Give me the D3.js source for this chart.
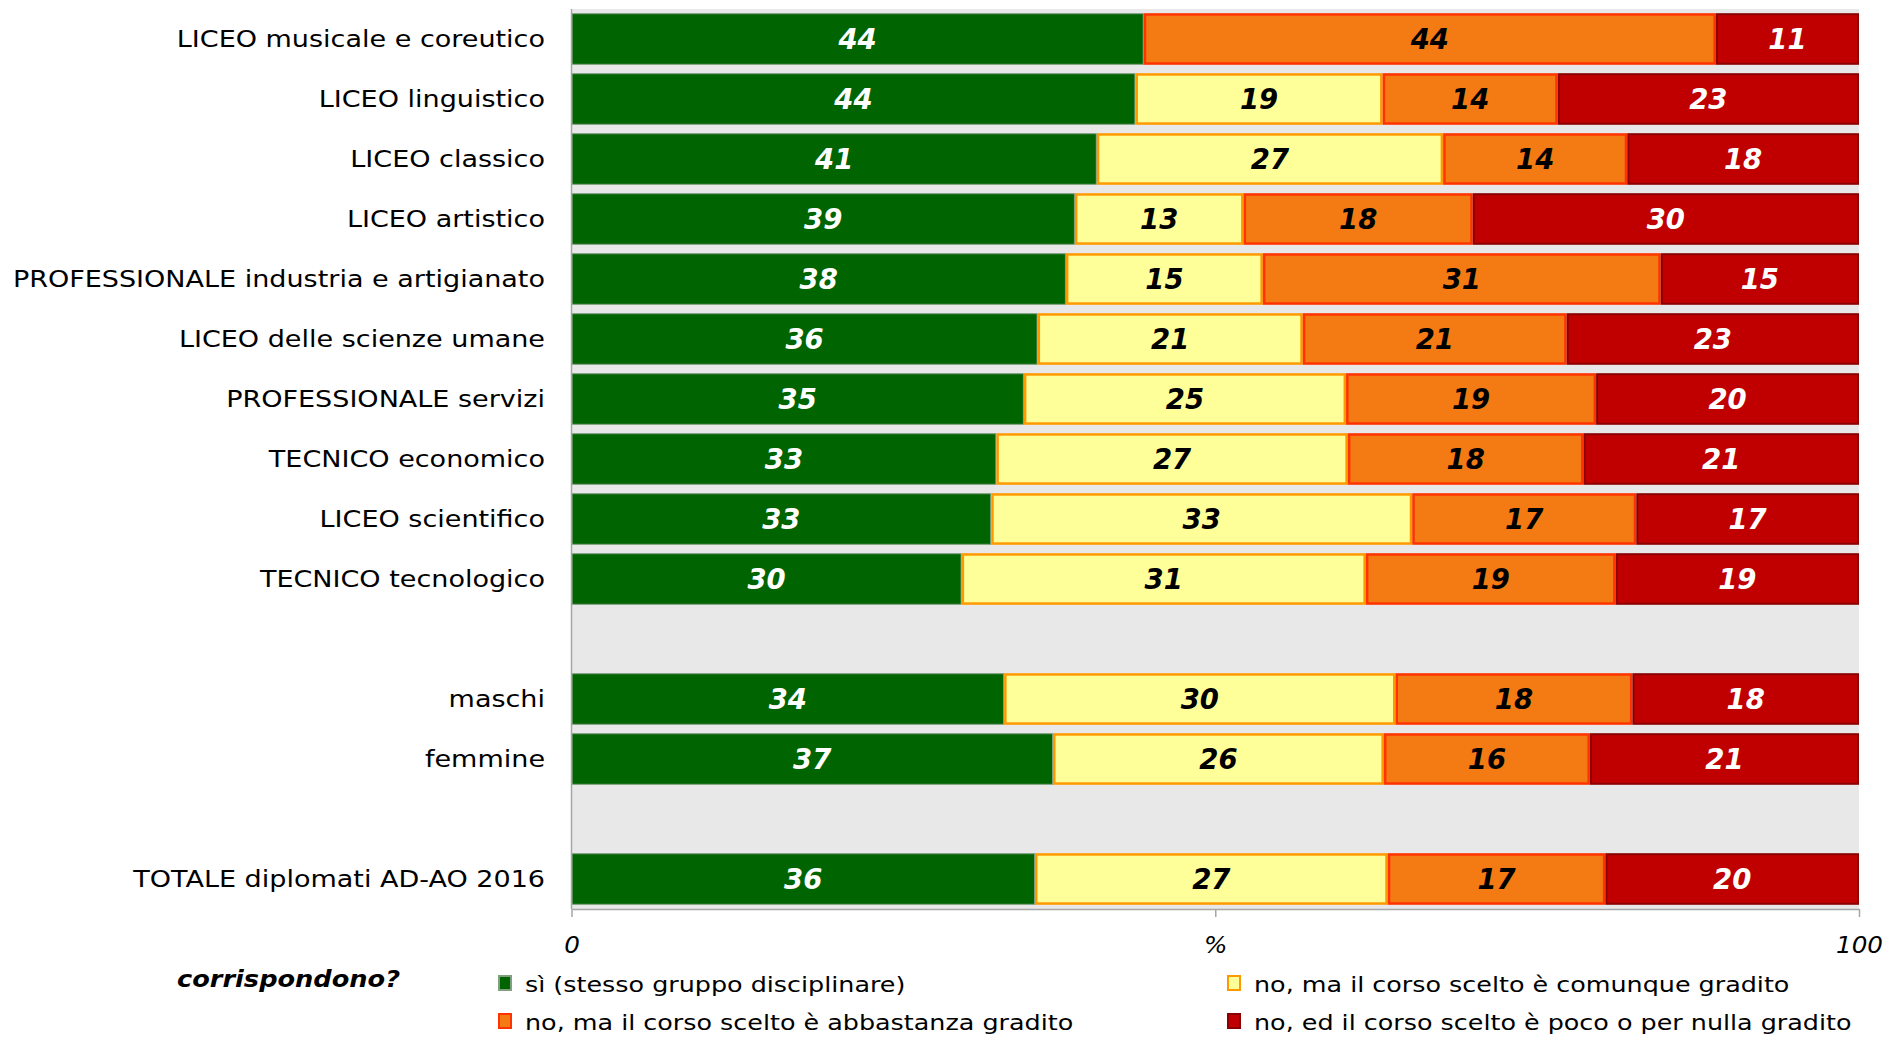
<!DOCTYPE html>
<html>
<head>
<meta charset="utf-8">
<script src="https://cdn.jsdelivr.net/npm/d3@7"></script>
<style>
  html, body { margin: 0; padding: 0; background: #ffffff; }
  svg { display: block; font-family: "DejaVu Sans", Verdana, sans-serif; }
</style>
</head>
<body>
<svg id="chart" width="1890" height="1038"></svg>
<script>
// ---------------- DATA ----------------
const categories = [
  "LICEO musicale e coreutico",
  "LICEO linguistico",
  "LICEO classico",
  "LICEO artistico",
  "PROFESSIONALE industria e artigianato",
  "LICEO delle scienze umane",
  "PROFESSIONALE servizi",
  "TECNICO economico",
  "LICEO scientifico",
  "TECNICO tecnologico",
  "maschi",
  "femmine",
  "TOTALE diplomati AD-AO 2016"
];
// row order on the band scale, with empty spacer rows
const rowOrder = [
  "LICEO musicale e coreutico", "LICEO linguistico", "LICEO classico", "LICEO artistico",
  "PROFESSIONALE industria e artigianato", "LICEO delle scienze umane", "PROFESSIONALE servizi",
  "TECNICO economico", "LICEO scientifico", "TECNICO tecnologico",
  "__gap1", "maschi", "femmine", "__gap2", "TOTALE diplomati AD-AO 2016"
];
const seriesNames = [
  "sì (stesso gruppo disciplinare)",
  "no, ma il corso scelto è comunque gradito",
  "no, ma il corso scelto è abbastanza gradito",
  "no, ed il corso scelto è poco o per nulla gradito"
];
// percentages (labels show them rounded)
const siStesso     = [44.4, 43.8, 40.8, 39.1, 38.4, 36.2, 35.1, 33.0, 32.6, 30.3, 33.6, 37.4, 36.0];
const comunque     = [ 0.0, 19.2, 26.9, 13.1, 15.3, 20.6, 25.0, 27.3, 32.7, 31.4, 30.4, 25.7, 27.4];
const abbastanza   = [44.4, 13.6, 14.3, 17.8, 30.9, 20.5, 19.4, 18.3, 17.4, 19.4, 18.4, 16.0, 16.9];
const pocoNulla    = [11.1, 23.4, 18.0, 30.0, 15.4, 22.7, 20.4, 21.4, 17.3, 18.9, 17.6, 20.9, 19.7];
const tickValues   = [0, 0.5, 1];
const tickLabels   = ["0", "%", "100"];
const legendTitle  = "corrispondono?";

// ---------------- STYLE ----------------
const fills   = ["#006400", "#FFFF99", "#F47A14", "#C00000"];
const strokes = ["#7f9f7f", "#FF9900", "#FF3300", "#8B0000"];
const labelColors = ["#ffffff", "#000000", "#000000", "#ffffff"];
const SX = 1.15; // horizontal stretch of the reference's text

const keys = ["s0", "s1", "s2", "s3"];
const table = categories.map((c, i) => ({
  cat: c, s0: siStesso[i], s1: comunque[i], s2: abbastanza[i], s3: pocoNulla[i]
}));

const svg = d3.select("#chart");
const x0 = 571.5, x1 = 1859, yTop = 9, yBot = 909;

const x = d3.scaleLinear().domain([0, 1]).range([x0, x1]);
const y = d3.scaleBand().domain(rowOrder).range([yTop, yBot])
  .paddingInner(0.14).paddingOuter(0.07);

const stack = d3.stack().keys(keys).offset(d3.stackOffsetExpand);
const series = stack(table);

// plot background
svg.append("rect")
  .attr("x", x0).attr("y", yTop)
  .attr("width", x1 - x0).attr("height", yBot - yTop)
  .attr("fill", "#E8E8E8");

// bars
const sw = [1, 2.5, 2.5, 2];
series.forEach((s, k) => {
  const g = svg.append("g");
  g.selectAll("rect").data(s.filter(d => d[1] - d[0] > 0)).join("rect")
    .attr("x", d => x(d[0]) + sw[k] / 2)
    .attr("y", d => y(d.data.cat) + sw[k] / 2)
    .attr("width", d => Math.max(0, x(d[1]) - x(d[0]) - sw[k]))
    .attr("height", y.bandwidth() - sw[k])
    .attr("fill", fills[k])
    .attr("stroke", strokes[k])
    .attr("stroke-width", sw[k]);
  g.selectAll("text").data(s.filter(d => d.data[keys[k]] > 0)).join("text")
    .attr("x", d => (x(d[0]) + x(d[1])) / 2)
    .attr("y", d => y(d.data.cat) + y.bandwidth() / 2 + 10)
    .attr("text-anchor", "middle")
    .attr("font-size", 27.5)
    .attr("font-weight", "bold")
    .attr("font-style", "italic")
    .attr("fill", labelColors[k])
    .text(d => Math.round(d.data[keys[k]]));
});

// left axis line
svg.append("line")
  .attr("x1", x0).attr("x2", x0).attr("y1", yTop).attr("y2", yBot)
  .attr("stroke", "#A6A6A6").attr("stroke-width", 1.5);

// bottom axis
const xAxis = d3.axisBottom(x).tickValues(tickValues).tickSize(8).tickSizeOuter(0)
  .tickFormat((d, i) => tickLabels[i]);
const ax = svg.append("g").attr("transform", `translate(0,${yBot})`).call(xAxis);
ax.select(".domain").attr("stroke", "#A6A6A6").attr("stroke-width", 1.5);
ax.selectAll(".tick line").attr("stroke", "#A6A6A6").attr("stroke-width", 1.5);
ax.selectAll(".tick text")
  .attr("y", 0).attr("dy", null)
  .attr("transform", `translate(0,44) scale(1.07,1)`)
  .attr("font-size", 23)
  .attr("font-style", "italic")
  .attr("font-family", "DejaVu Sans, Verdana, sans-serif")
  .attr("fill", "#000");

// category labels
svg.append("g").selectAll("text").data(categories).join("text")
  .attr("transform", d => `translate(545,${y(d) + y.bandwidth() / 2 + 8}) scale(${SX},1)`)
  .attr("text-anchor", "end")
  .attr("font-size", 23.5)
  .attr("fill", "#000")
  .text(d => d);

// legend
svg.append("text")
  .attr("transform", `translate(400,987) scale(${SX},1)`)
  .attr("text-anchor", "end")
  .attr("font-size", 22.3)
  .attr("font-weight", "bold")
  .attr("font-style", "italic")
  .text(legendTitle);

const legendPos = [
  { k: 0, sx: 498, y: 992 },
  { k: 1, sx: 1227, y: 992 },
  { k: 2, sx: 498, y: 1030 },
  { k: 3, sx: 1227, y: 1030 }
];
const lg = svg.append("g").selectAll("g").data(legendPos).join("g");
lg.append("rect")
  .attr("x", d => d.sx + 1).attr("y", d => d.y - 16)
  .attr("width", 12).attr("height", 14)
  .attr("fill", d => fills[d.k])
  .attr("stroke", d => strokes[d.k])
  .attr("stroke-width", 2);
lg.append("text")
  .attr("transform", d => `translate(${d.sx + 27},${d.y}) scale(${SX},1)`)
  .attr("font-size", 22.1)
  .attr("fill", "#000")
  .text(d => seriesNames[d.k]);
</script>
</body>
</html>
